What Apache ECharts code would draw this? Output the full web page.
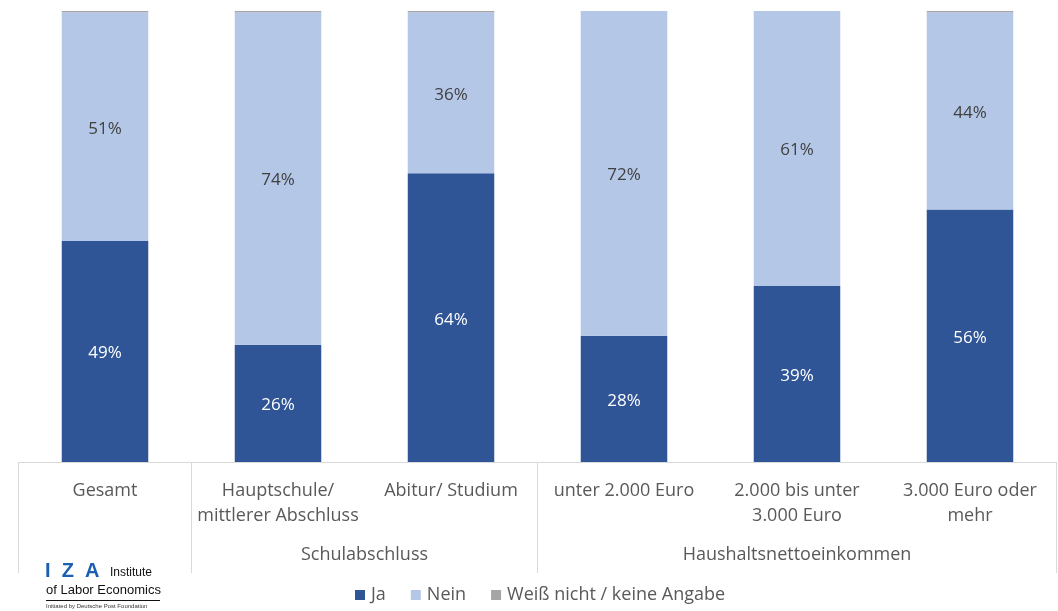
<!DOCTYPE html>
<html>
<head>
<meta charset="utf-8">
<script src="https://cdn.jsdelivr.net/npm/echarts@6/dist/echarts.min.js"></script>
<style>html,body{margin:0;padding:0;background:#fff}#c{width:1058px;height:611px}</style>
</head>
<body>
<div id="c"></div>
<script>
const categories = ['Gesamt', 'Hauptschule/\nmittlerer Abschluss', 'Abitur/ Studium', 'unter 2.000 Euro', '2.000 bis unter\n3.000 Euro', '3.000 Euro oder\nmehr'];
const groupLabels = {2: 'Schulabschluss', 4.5: 'Haushaltsnettoeinkommen'};
const groupBoundaries = [0, 1, 3, 6];
const seriesNames = ['Ja', 'Nein', 'Weiß nicht / keine Angabe'];
const ja = [49, 26, 64, 28, 39, 56];
const nein = [50.7, 73.7, 35.7, 72, 61, 43.7];
const weissNicht = [0.3, 0.3, 0.3, 0, 0, 0.3];

const font = '"Open Sans", "Noto Sans", sans-serif';
const txt = '#595959';
const chart = echarts.init(document.getElementById('c'), null, {renderer: 'canvas'});
const pct = p => Math.round(p.value) + '%';
chart.setOption({
  animation: false,
  textStyle: {fontFamily: font},
  grid: {left: 18.5, right: 1.5, top: 11, bottom: 149, containLabel: false},
  legend: {
    top: 581, left: 350, itemWidth: 10, itemHeight: 10, itemGap: 25,
    icon: 'rect',
    textStyle: {color: txt, fontSize: 18, fontFamily: font, padding: [0, 0, 0, 1]},
    data: seriesNames
  },
  xAxis: [{
    type: 'category', data: categories,
    axisLine: {show: true, lineStyle: {color: '#d9d9d9', width: 1}},
    axisTick: {show: false},
    axisLabel: {interval: 0, color: txt, fontSize: 18, lineHeight: 25, margin: 16, fontFamily: font}
  }, {
    type: 'value', min: 0, max: 6, position: 'bottom',
    axisLine: {show: false},
    splitLine: {show: false},
    axisTick: {show: true, inside: false, length: 111, customValues: groupBoundaries, lineStyle: {color: '#d9d9d9', width: 1}},
    axisLabel: {show: true, customValues: [2, 4.5], color: txt, fontSize: 18, margin: 84, fontFamily: font,
      formatter: v => groupLabels[v] || ''}
  }],
  yAxis: {type: 'value', min: 0, max: 100, show: false},
  series: [
    {name: seriesNames[0], type: 'bar', stack: 's', data: ja, barWidth: '50%', xAxisIndex: 0,
     itemStyle: {color: '#2f5597'},
     label: {show: true, position: 'inside', offset: [0, 2], color: '#ffffff', fontSize: 17, fontFamily: font, formatter: pct}},
    {name: seriesNames[1], type: 'bar', stack: 's', data: nein, barWidth: '50%', xAxisIndex: 0,
     itemStyle: {color: '#b4c7e7'},
     label: {show: true, position: 'inside', offset: [0, 2], color: '#404040', fontSize: 17, fontFamily: font, formatter: pct}},
    {name: seriesNames[2], type: 'bar', stack: 's', data: weissNicht, barWidth: '50%', xAxisIndex: 0,
     itemStyle: {color: '#a5a5a5'}, label: {show: false}}
  ],
  graphic: [
    {type: 'text', left: 45, top: 561, style: {text: 'I  Z  A', fill: '#1b5fb0', font: 'bold 20px "Liberation Sans", sans-serif'}},
    {type: 'text', left: 110, top: 567, style: {text: 'Institute', fill: '#111', font: '12px "Liberation Sans Narrow", "Liberation Sans", sans-serif'}},
    {type: 'text', left: 46, top: 584, style: {text: 'of Labor Economics', fill: '#111', font: '13px "Liberation Sans Narrow", "Liberation Sans", sans-serif'}},
    {type: 'rect', shape: {x: 46, y: 600, width: 114, height: 1}, style: {fill: '#111'}},
    {type: 'text', left: 46, top: 603, style: {text: 'Initiated by Deutsche Post Foundation', fill: '#333', font: '6px "Liberation Sans", sans-serif'}}
  ]
});
</script>
</body>
</html>
